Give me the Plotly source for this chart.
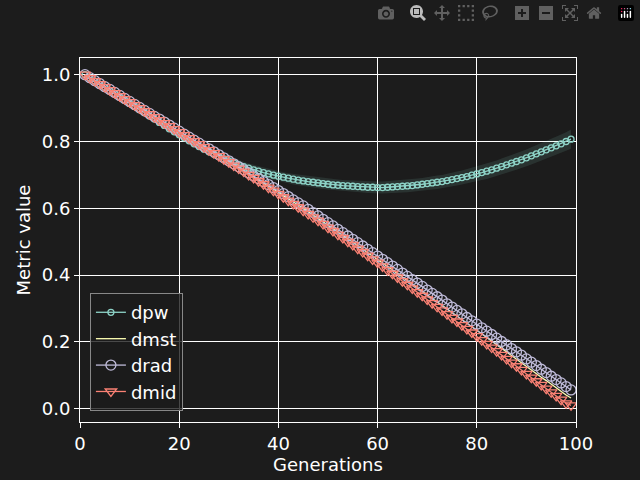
import plotly.graph_objects as go

generations = list(range(1, 100))

dpw = [1.000, 0.990, 0.981, 0.971, 0.962, 0.952, 0.943, 0.933, 0.924, 0.914,
       0.905, 0.895, 0.886, 0.876, 0.867, 0.857, 0.848, 0.838, 0.829, 0.820,
       0.811, 0.802, 0.793, 0.785, 0.777, 0.769, 0.762, 0.755, 0.748, 0.742,
       0.736, 0.730, 0.725, 0.720, 0.715, 0.711, 0.707, 0.703, 0.699, 0.696,
       0.693, 0.690, 0.687, 0.684, 0.682, 0.680, 0.678, 0.676, 0.674, 0.672,
       0.670, 0.669, 0.668, 0.667, 0.666, 0.665, 0.664, 0.663, 0.663, 0.662,
       0.662, 0.663, 0.664, 0.665, 0.666, 0.667, 0.668, 0.670, 0.672, 0.674,
       0.676, 0.678, 0.680, 0.683, 0.686, 0.689, 0.692, 0.695, 0.699, 0.703,
       0.707, 0.711, 0.715, 0.720, 0.725, 0.730, 0.735, 0.740, 0.745, 0.751,
       0.757, 0.763, 0.769, 0.775, 0.781, 0.787, 0.793, 0.800, 0.807]

dpw_std = [0.003, 0.004, 0.004, 0.005, 0.005, 0.006, 0.006, 0.007, 0.007, 0.008,
           0.008, 0.009, 0.009, 0.010, 0.010, 0.010, 0.011, 0.011, 0.011, 0.012,
           0.012, 0.012, 0.012, 0.013, 0.013, 0.013, 0.013, 0.013, 0.014, 0.014,
           0.014, 0.014, 0.014, 0.014, 0.015, 0.015, 0.015, 0.015, 0.015, 0.015,
           0.015, 0.015, 0.016, 0.016, 0.016, 0.016, 0.016, 0.016, 0.016, 0.016,
           0.016, 0.017, 0.017, 0.017, 0.017, 0.017, 0.017, 0.017, 0.018, 0.018,
           0.018, 0.018, 0.018, 0.018, 0.019, 0.019, 0.019, 0.019, 0.019, 0.020,
           0.020, 0.020, 0.020, 0.021, 0.021, 0.021, 0.021, 0.022, 0.022, 0.022,
           0.022, 0.023, 0.023, 0.023, 0.024, 0.024, 0.024, 0.025, 0.025, 0.025,
           0.026, 0.026, 0.026, 0.027, 0.027, 0.028, 0.028, 0.028, 0.029]

drad = [1.000, 0.991, 0.982, 0.973, 0.964, 0.956, 0.947, 0.938, 0.929, 0.920,
        0.911, 0.902, 0.893, 0.884, 0.875, 0.867, 0.858, 0.849, 0.840, 0.831,
        0.822, 0.813, 0.804, 0.795, 0.786, 0.778, 0.769, 0.760, 0.751, 0.742,
        0.733, 0.724, 0.715, 0.706, 0.697, 0.689, 0.680, 0.671, 0.662, 0.653,
        0.644, 0.635, 0.625, 0.616, 0.607, 0.597, 0.587, 0.577, 0.567, 0.557,
        0.547, 0.537, 0.527, 0.517, 0.507, 0.497, 0.487, 0.477, 0.467, 0.457,
        0.447, 0.437, 0.427, 0.417, 0.406, 0.396, 0.386, 0.376, 0.366, 0.355,
        0.345, 0.335, 0.325, 0.314, 0.304, 0.294, 0.284, 0.273, 0.263, 0.253,
        0.242, 0.232, 0.222, 0.211, 0.201, 0.191, 0.180, 0.170, 0.160, 0.149,
        0.139, 0.129, 0.118, 0.108, 0.097, 0.087, 0.077, 0.066, 0.056]

dmst = [1.000, 0.990, 0.981, 0.972, 0.963, 0.955, 0.946, 0.937, 0.928, 0.919,
        0.910, 0.901, 0.892, 0.883, 0.874, 0.865, 0.856, 0.847, 0.838, 0.829,
        0.820, 0.811, 0.802, 0.793, 0.784, 0.776, 0.767, 0.758, 0.749, 0.740,
        0.730, 0.721, 0.712, 0.703, 0.694, 0.685, 0.676, 0.666, 0.657, 0.648,
        0.638, 0.629, 0.619, 0.609, 0.600, 0.590, 0.580, 0.570, 0.560, 0.549,
        0.539, 0.529, 0.519, 0.508, 0.498, 0.488, 0.478, 0.467, 0.457, 0.447,
        0.436, 0.426, 0.415, 0.405, 0.394, 0.383, 0.373, 0.362, 0.352, 0.341,
        0.330, 0.320, 0.309, 0.298, 0.288, 0.277, 0.267, 0.256, 0.245, 0.235,
        0.224, 0.213, 0.202, 0.191, 0.181, 0.170, 0.159, 0.148, 0.138, 0.127,
        0.116, 0.105, 0.094, 0.084, 0.073, 0.062, 0.051, 0.041, 0.032]

dmid = [1.000, 0.990, 0.981, 0.972, 0.963, 0.954, 0.945, 0.936, 0.927, 0.918,
        0.909, 0.900, 0.891, 0.882, 0.873, 0.864, 0.855, 0.846, 0.837, 0.828,
        0.819, 0.810, 0.801, 0.792, 0.783, 0.774, 0.765, 0.756, 0.747, 0.738,
        0.728, 0.719, 0.710, 0.700, 0.691, 0.681, 0.672, 0.662, 0.653, 0.643,
        0.633, 0.623, 0.613, 0.603, 0.593, 0.583, 0.573, 0.563, 0.553, 0.542,
        0.532, 0.521, 0.511, 0.500, 0.490, 0.479, 0.469, 0.458, 0.447, 0.437,
        0.426, 0.415, 0.404, 0.393, 0.382, 0.371, 0.360, 0.349, 0.338, 0.327,
        0.316, 0.305, 0.294, 0.283, 0.272, 0.261, 0.250, 0.239, 0.228, 0.217,
        0.205, 0.194, 0.183, 0.172, 0.161, 0.149, 0.138, 0.127, 0.116, 0.104,
        0.093, 0.082, 0.071, 0.060, 0.049, 0.038, 0.027, 0.016, 0.010]

bg = "#1c1c1c"
fig = go.Figure()

# shaded spread around dpw
upper = [m + s for m, s in zip(dpw, dpw_std)]
lower = [m - s for m, s in zip(dpw, dpw_std)]
fig.add_trace(go.Scatter(x=generations + generations[::-1], y=upper + lower[::-1],
                         fill="toself", fillcolor="rgba(141,211,199,0.12)",
                         line=dict(width=0), hoverinfo="skip", showlegend=False))

fig.add_trace(go.Scatter(x=generations, y=dpw, name="dpw", mode="lines+markers",
                         line=dict(color="#8dd3c7", width=1.3),
                         marker=dict(symbol="circle-open", size=6, color="#8dd3c7",
                                     line=dict(width=1.3))))
fig.add_trace(go.Scatter(x=generations, y=dmst, name="dmst", mode="lines",
                         line=dict(color="#feffb3", width=1.3)))
fig.add_trace(go.Scatter(x=generations, y=drad, name="drad", mode="lines+markers",
                         line=dict(color="#bfbbd9", width=1.3),
                         marker=dict(symbol="circle-open", size=10, color="#bfbbd9",
                                     line=dict(width=1.3))))
fig.add_trace(go.Scatter(x=generations, y=dmid, name="dmid", mode="lines+markers",
                         line=dict(color="#fa8174", width=1.3),
                         marker=dict(symbol="triangle-down-open", size=10, color="#fa8174",
                                     line=dict(width=1.3))))

axis_style = dict(showgrid=True, gridcolor="white", gridwidth=1, zeroline=False,
                  showline=True, linecolor="white", mirror=True, ticks="outside",
                  tickcolor="white", ticklen=5, tickfont=dict(size=18, color="white"))
fig.update_xaxes(range=[0, 100], dtick=20,
                 title=dict(text="Generations", font=dict(size=18, color="white"), standoff=2),
                 **axis_style)
fig.update_yaxes(range=[-0.04, 1.05], tickvals=[0, 0.2, 0.4, 0.6, 0.8, 1.0], tickformat=".1f",
                 title=dict(text="Metric value", font=dict(size=18, color="white"), standoff=6),
                 **axis_style)

fig.update_layout(
    width=640, height=480, paper_bgcolor=bg, plot_bgcolor=bg,
    font=dict(family="DejaVu Sans", color="white"),
    margin=dict(l=80, r=64, t=58, b=52),
    legend=dict(x=0.02, y=0.03, xanchor="left", yanchor="bottom",
                bgcolor="rgba(28,28,28,0.8)", bordercolor="#888888", borderwidth=1,
                font=dict(size=18, color="white")),
)

fig.write_html("out.html",
               post_script="document.body.style.margin='0';document.body.style.background='#1c1c1c';")
